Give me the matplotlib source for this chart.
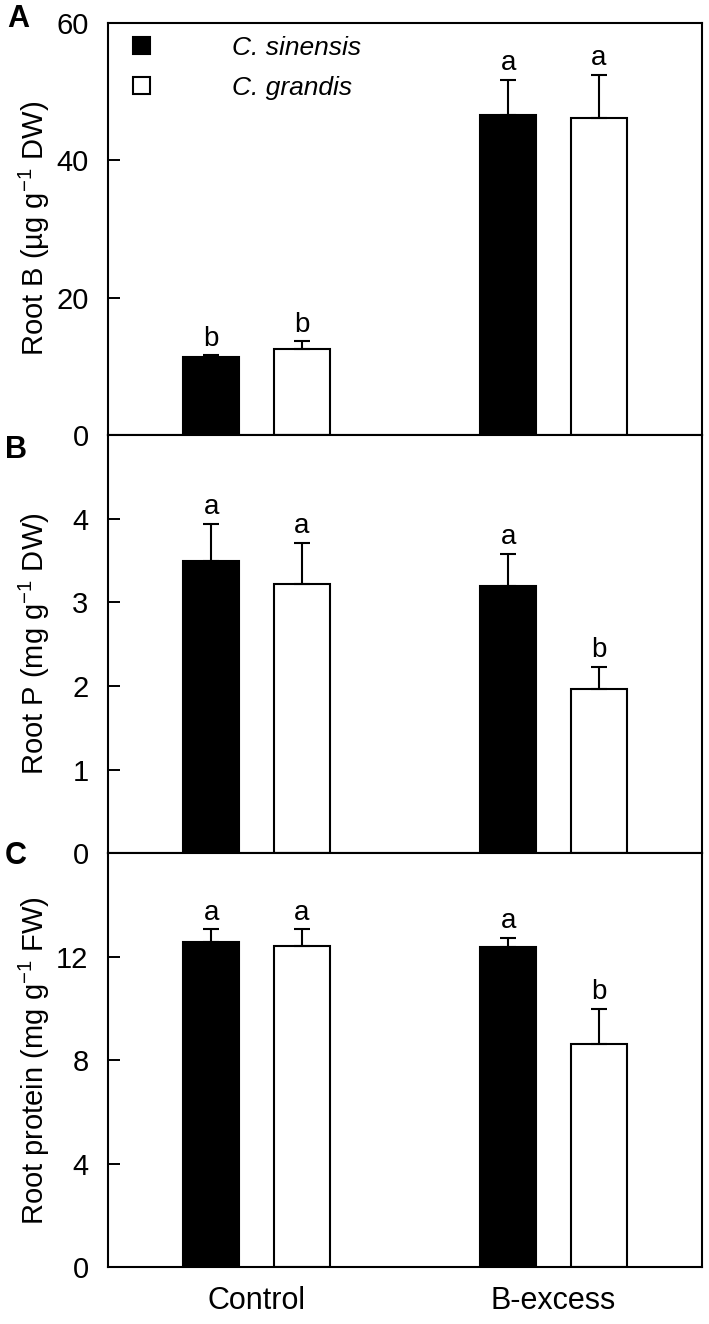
import numpy as np
import matplotlib.pyplot as plt

plt.rcParams['font.family'] = 'Liberation Sans'
plt.rcParams['mathtext.fontset'] = 'custom'
plt.rcParams['mathtext.rm'] = 'Liberation Sans'
plt.rcParams['mathtext.it'] = 'Liberation Sans:italic'

groups = ["Control", "B-excess"]
species = ["C. sinensis", "C. grandis"]

root_B_sin = [11.3, 46.6]
root_B_sin_err = [0.3, 5.1]
root_B_gra = [12.5, 46.1]
root_B_gra_err = [1.1, 6.3]
root_B_letters = [["b", "b"], ["a", "a"]]

root_P_sin = [3.49, 3.19]
root_P_sin_err = [0.45, 0.39]
root_P_gra = [3.22, 1.96]
root_P_gra_err = [0.49, 0.27]
root_P_letters = [["a", "a"], ["a", "b"]]

protein_sin = [12.56, 12.37]
protein_sin_err = [0.50, 0.36]
protein_gra = [12.41, 8.63]
protein_gra_err = [0.65, 1.37]
protein_letters = [["a", "a"], ["a", "b"]]

panels = [
    ("A", root_B_sin, root_B_sin_err, root_B_gra, root_B_gra_err, root_B_letters,
     "Root B (µg g$^{-1}$ DW)", (0, 60), [0, 20, 40, 60]),
    ("B", root_P_sin, root_P_sin_err, root_P_gra, root_P_gra_err, root_P_letters,
     "Root P (mg g$^{-1}$ DW)", (0, 5), [0, 1, 2, 3, 4]),
    ("C", protein_sin, protein_sin_err, protein_gra, protein_gra_err, protein_letters,
     "Root protein (mg g$^{-1}$ FW)", (0, 16), [0, 4, 8, 12]),
]

fig = plt.figure(figsize=(7.09, 13.24), dpi=100)

left, right = 0.1523, 0.990
bounds = [0.6715, 0.9829, 0.3555, 0.6715, 0.0427, 0.3555]
# panel letter centres in pixels (x, y from top)
letter_pos = [(18, 19), (16, 450), (16, 856)]

x = np.arange(len(groups))
offset = 0.152
width = 0.189
lw = 1.5

for i, (letter, ys, yse, yg, yge, lets, ylab, ylim, yticks) in enumerate(panels):
    b0, b1 = bounds[2 * i], bounds[2 * i + 1]
    ax = fig.add_axes([left, b0, right - left, b1 - b0])

    err_kw = dict(elinewidth=lw, capthick=lw, ecolor="black")
    ax.bar(x - offset, ys, width, color="black", edgecolor="black", linewidth=lw,
           yerr=[np.zeros(len(ys)), yse], capsize=5.5, error_kw=err_kw,
           label=species[0], zorder=2)
    ax.bar(x + offset, yg, width, color="white", edgecolor="black", linewidth=lw,
           yerr=[np.zeros(len(yg)), yge], capsize=5.5, error_kw=err_kw,
           label=species[1], zorder=2)

    for j in range(len(groups)):
        ax.annotate(lets[j][0], (x[j] - offset, ys[j] + yse[j]), xytext=(0, 7),
                    textcoords="offset points", ha="center", va="baseline", fontsize=20)
        ax.annotate(lets[j][1], (x[j] + offset, yg[j] + yge[j]), xytext=(0, 7),
                    textcoords="offset points", ha="center", va="baseline", fontsize=20)

    ax.set_xlim(-0.5, 1.5)
    ax.set_ylim(*ylim)
    ax.set_yticks(yticks)
    ax.tick_params(axis="y", direction="in", length=8.5, width=1.4, pad=14, labelsize=21)
    ax.set_ylabel(ylab, fontsize=21)
    ax.yaxis.set_label_coords(-0.095, 0.5)
    for s in ax.spines.values():
        s.set_linewidth(1.5)

    if i < 2:
        ax.set_xticks([])
    else:
        ax.set_xticks(x)
        ax.set_xticklabels(groups)
        ax.tick_params(axis="x", length=0, pad=13, labelsize=22)

    if i == 0:
        ax.legend(loc="upper left", bbox_to_anchor=(0.042, 0.968), frameon=False,
                  borderaxespad=0, borderpad=0, handlelength=0.65, handleheight=0.65,
                  handletextpad=3.1, labelspacing=0.6,
                  prop=dict(family="Liberation Sans", style="italic", size=19))

    lx, ly = letter_pos[i]
    fig.text(lx / 709, 1 - ly / 1324, letter, fontsize=22, fontweight="bold",
             ha="center", va="center")

fig.savefig("out.png", dpi=100)
